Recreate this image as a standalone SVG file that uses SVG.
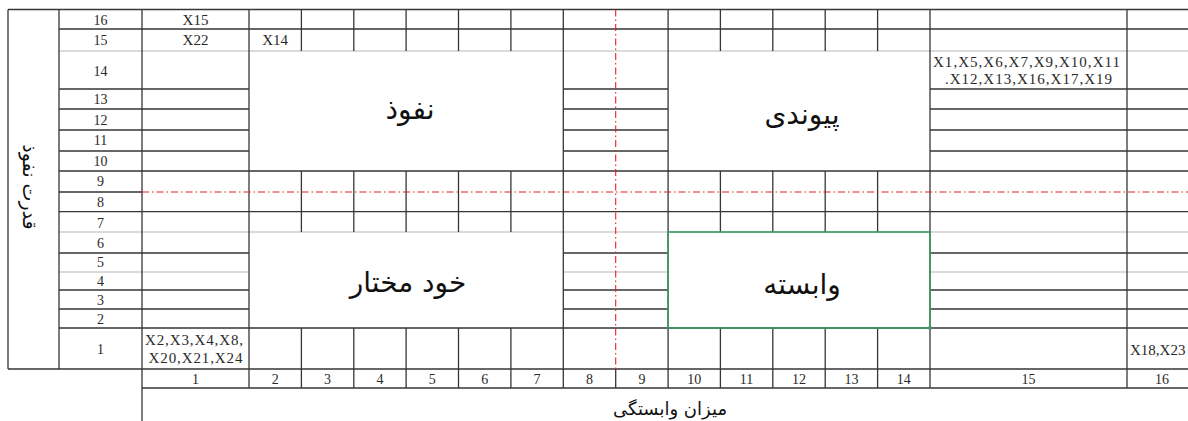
<svg xmlns="http://www.w3.org/2000/svg" width="1188" height="421" viewBox="0 0 1188 421">
<style>
.dk{fill:none;stroke:#363636;stroke-width:1.3}
.lt{fill:none;stroke:#d0d0d0;stroke-width:1.5}
.rd{fill:none;stroke:#e0202a;stroke-width:1.1;stroke-dasharray:7 3 1.5 3}
.gr{fill:none;stroke:#3f9a62;stroke-width:1.6}
.n{font-family:"Liberation Serif","Times New Roman",serif;font-size:14px;fill:#2a2a2a;text-anchor:middle}
.x{font-family:"Liberation Serif","Times New Roman",serif;font-size:15px;fill:#2a2a2a;text-anchor:middle}
.fa{font-family:"DejaVu Sans",sans-serif;fill:#111;text-anchor:middle}
.q{font-size:28px}
</style>
<rect width="1188" height="421" fill="#fff"/>
<g id="grid">
<path class="lt" d="M59 51H1188M59 232H1188M59 272H249M563.3 272H668.1M930 272H1188"/>
<path class="dk" d="M8 9.5H1188M59 29H1188
M59 89H249M563.3 89H668.1M930 89H1188
M59 109H249M563.3 109H668.1M930 109H1188
M59 130H249M563.3 130H668.1M930 130H1188
M59 151H249M563.3 151H668.1M930 151H1188
M59 171H1188M59 192H142M59 211.7H1188
M59 253H249M563.3 253H668.1M930 253H1188
M59 290H249M563.3 290H668.1M930 290H1188
M59 309H249M563.3 309H668.1M930 309H1188
M59 328H1188M8 369H1188M142 388H1188
M8 9.5V369M59 9.5V369M142 9.5V421M249 9.5V388M563.3 9.5V388M668.1 9.5V388M930 9.5V388M1127 9.5V388
M301.4 9.5V51M301.4 171V232M301.4 328V388
M353.8 9.5V51M353.8 171V232M353.8 328V388
M406.1 9.5V51M406.1 171V232M406.1 328V388
M458.5 9.5V51M458.5 171V232M458.5 328V388
M510.9 9.5V51M510.9 171V232M510.9 328V388
M720.4 9.5V51M720.4 171V232M720.4 328V388
M772.8 9.5V51M772.8 171V232M772.8 328V388
M825.2 9.5V51M825.2 171V232M825.2 328V388
M877.6 9.5V51M877.6 171V232M877.6 328V388
M615.7 369V388"/>
<path class="rd" d="M142 192H1188M615.7 9.5V369"/>
</g>
<g id="row-numbers">
<text class="n" x="100.5" y="25">16</text>
<text class="n" x="100.5" y="45">15</text>
<text class="n" x="100.5" y="76">14</text>
<text class="n" x="100.5" y="104">13</text>
<text class="n" x="100.5" y="125">12</text>
<text class="n" x="100.5" y="145">11</text>
<text class="n" x="100.5" y="166">10</text>
<text class="n" x="100.5" y="186">9</text>
<text class="n" x="100.5" y="206.5">8</text>
<text class="n" x="100.5" y="228">7</text>
<text class="n" x="100.5" y="248">6</text>
<text class="n" x="100.5" y="267">5</text>
<text class="n" x="100.5" y="285.5">4</text>
<text class="n" x="100.5" y="305">3</text>
<text class="n" x="100.5" y="324">2</text>
<text class="n" x="100.5" y="354">1</text>
</g>
<g id="col-numbers">
<text class="n" x="195.5" y="384">1</text>
<text class="n" x="275.2" y="384">2</text>
<text class="n" x="327.6" y="384">3</text>
<text class="n" x="380" y="384">4</text>
<text class="n" x="432.3" y="384">5</text>
<text class="n" x="484.7" y="384">6</text>
<text class="n" x="537.1" y="384">7</text>
<text class="n" x="589.5" y="384">8</text>
<text class="n" x="641.9" y="384">9</text>
<text class="n" x="694.3" y="384">10</text>
<text class="n" x="746.6" y="384">11</text>
<text class="n" x="799" y="384">12</text>
<text class="n" x="851.4" y="384">13</text>
<text class="n" x="903.8" y="384">14</text>
<text class="n" x="1028.5" y="384">15</text>
<text class="n" x="1162" y="384">16</text>
</g>
<g id="cell-values">
<text class="x" x="195.5" y="25">X15</text>
<text class="x" x="195.5" y="45">X22</text>
<text class="x" x="275.2" y="45">X14</text>
<text class="x" x="1026.5" y="67" textLength="187" lengthAdjust="spacing">X1,X5,X6,X7,X9,X10,X11</text>
<text class="x" x="1028.5" y="84" textLength="167" lengthAdjust="spacing">.X12,X13,X16,X17,X19</text>
<text class="x" x="194" y="345" textLength="98" lengthAdjust="spacing">X2,X3,X4,X8,</text>
<text class="x" x="195.5" y="363" textLength="94" lengthAdjust="spacing">X20,X21,X24</text>
<text class="x" x="1130" y="355" style="text-anchor:start">X18,X23</text>
</g>
<g id="quadrant-influence">
<text class="fa q" x="410" y="119">نفوذ</text>
</g>
<g id="quadrant-linkage">
<text class="fa q" x="802" y="124">پیوندی</text>
</g>
<g id="quadrant-autonomous">
<text class="fa q" x="408" y="292">خود مختار</text>
</g>
<g id="quadrant-dependent">
<rect class="gr" x="668.1" y="232" width="261.9" height="96"/>
<rect x="928.5" y="326.5" width="3" height="3" fill="#3f9a62"/>
<text class="fa q" x="802" y="294">وابسته</text>
</g>
<g id="axis-labels">
<text class="fa" font-size="19" transform="translate(30 187) rotate(90)" dy="7">قدرت نفوذ</text>
<text class="fa" x="670" y="415" font-size="18">میزان وابستگی</text>
</g>
</svg>
